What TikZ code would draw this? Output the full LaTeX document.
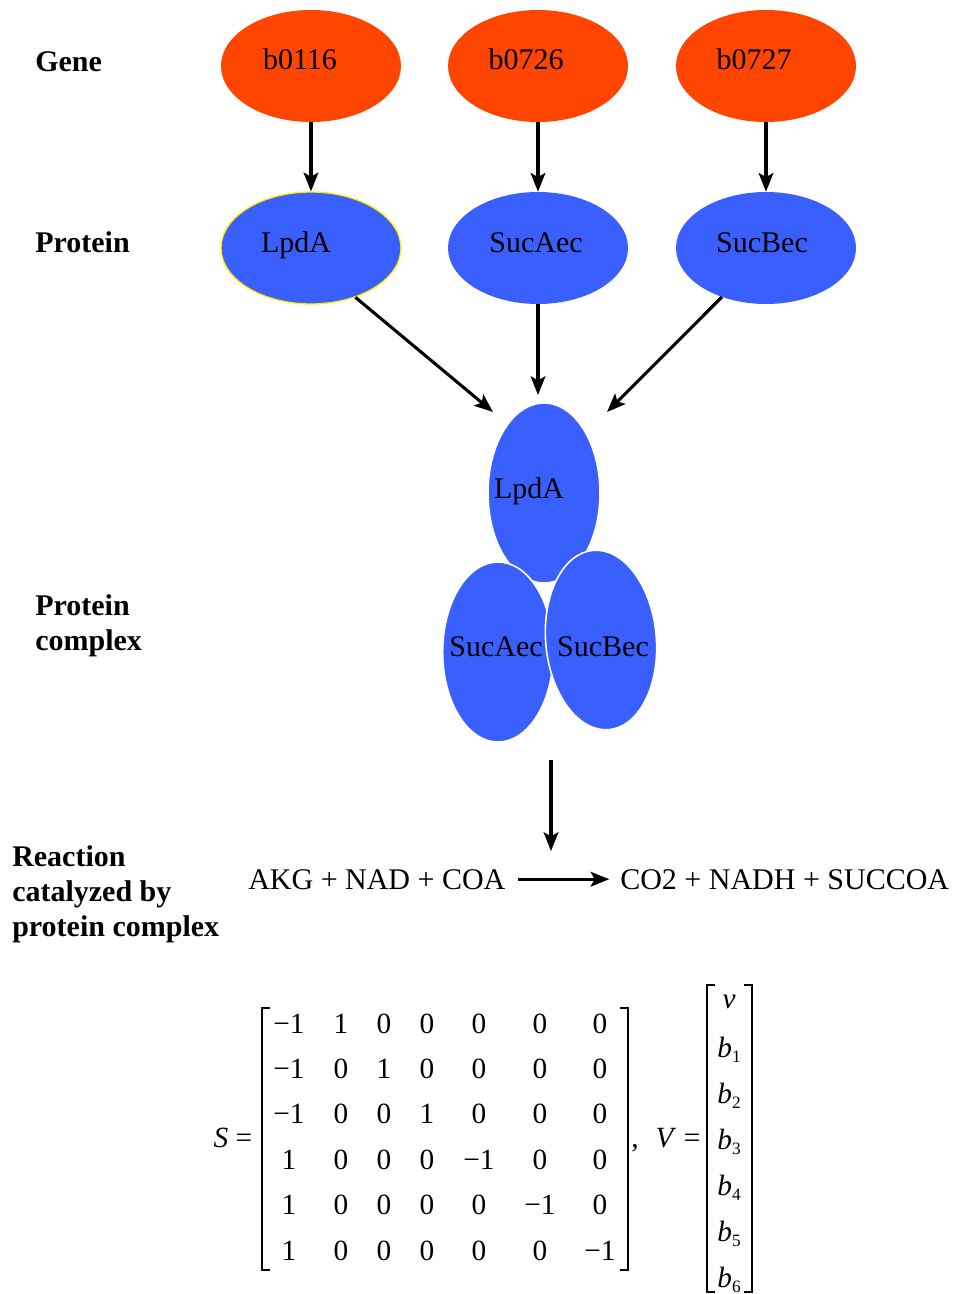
\documentclass[tikz,border=0pt]{standalone}
\usepackage{fontspec}
\setmainfont{Liberation Serif}
\usetikzlibrary{shapes.geometric,arrows.meta,calc}
\definecolor{genecol}{RGB}{255,69,0}
\definecolor{protblue}{RGB}{58,95,255}
\begin{document}
\begin{tikzpicture}[x=0.75pt,y=-0.75pt,
 every node/.style={font=\fontsize{22.5}{26.25}\selectfont},
 gene/.style={ellipse, fill=genecol, minimum width=135pt, minimum height=84pt, inner sep=0},
 prot/.style={ellipse, fill=protblue, minimum width=135pt, minimum height=84pt, inner sep=0},
 cplx/.style={ellipse, fill=protblue, draw=white, line width=1.2pt, minimum width=83pt, minimum height=135pt, inner sep=0},
 txt/.style={anchor=base, inner sep=0},
 lab/.style={inner sep=0, align=left, font=\bfseries\fontsize{22.5}{26.25}\selectfont},
 arr/.style={line width=2.3pt, -{Stealth[length=14pt,width=11pt,inset=3pt]}},
 bra/.style={line width=1.1pt},
 mat/.style={anchor=base, inner sep=0, font=\fontsize{22}{24}\selectfont}]
\path[use as bounding box] (0,0) rectangle (956,1294);

% row labels
\node[lab, anchor=base west] (lgene) at (35,72) {Gene};
\node[lab, anchor=base west] (lprot) at (35,253) {Protein};
\node[lab, anchor=west] (lcplx) at (35,626) {Protein\\complex};
\node[lab, anchor=west] (lreac) at (12,894) {Reaction\\catalyzed by\\protein complex};

% genes
\node[gene] (g1) at (311,66) {};
\node[gene] (g2) at (538,66) {};
\node[gene] (g3) at (766,66) {};
\node[txt] (g1t) at (300,70) {b0116};
\node[txt] (g2t) at (526,70) {b0726};
\node[txt] (g3t) at (754,70) {b0727};

% proteins
\node[prot, draw=yellow, line width=1pt] (p1) at (311,248) {};
\node[prot] (p2) at (538,248) {};
\node[prot] (p3) at (766,248) {};
\node[txt] (p1t) at (296,253) {LpdA};
\node[txt] (p2t) at (536,253) {SucAec};
\node[txt] (p3t) at (762,253) {SucBec};

\draw[arr] (g1) -- (p1);
\draw[arr] (g2) -- (p2);
\draw[arr] (g3) -- (p3);

% complex
\node[cplx, minimum width=84pt] (c1) at (544,493) {};
\node[txt] (c1t) at (529,498) {LpdA};
\node[cplx] (c2) at (498,652) {};
\node[cplx, rotate=5] (c3) at (601,640) {};
\node[txt] (c2t) at (496,656) {SucAec};
\node[txt] (c3t) at (603,656) {SucBec};

\coordinate (a1) at (493,412);
\coordinate (a2) at (538,395);
\coordinate (a3) at (607,412);
\draw[arr] (p1.-48) -- (a1);
\draw[arr] (p2) -- (a2);
\draw[arr] (p3.-132) -- (a3);

\coordinate (k1) at (551,760);
\coordinate (k2) at (551,851);
\draw[arr] (k1) -- (k2);

% reaction
\node[txt, anchor=base west] (lhs) at (248,889) {AKG + NAD + COA};
\node[txt, anchor=base west] (rhs) at (620,889) {CO2 + NADH + SUCCOA};
\draw[arr, shorten <=9pt, shorten >=8pt] (lhs.east) -- (rhs.west);

% S matrix
\node[mat] (Slab) at (233,1147) {\textit{S} =};
\draw[bra] (270,1008) -- (262,1008) -- (262,1270) -- (270,1270);
\draw[bra] (620,1008) -- (628,1008) -- (628,1270) -- (620,1270);
\foreach \row [count=\r] in {{−1,1,0,0,0,0,0},{−1,0,1,0,0,0,0},{−1,0,0,1,0,0,0},{1,0,0,0,−1,0,0},{1,0,0,0,0,−1,0},{1,0,0,0,0,0,−1}}{
  \foreach \e [count=\c] in \row {
    \pgfmathsetmacro{\cx}{{289,341,384,427,479,540,600}[\c-1]}
    \node[mat] (s-\r-\c) at ({\cx},{1033+45.4*(\r-1)}) {\e};
  }
}
\node[mat] (comma) at (635,1147) {,};
\node[mat] (Vlab) at (678,1147) {\textit{V} =};
\draw[bra] (715,985) -- (707,985) -- (707,1292) -- (715,1292);
\draw[bra] (744,985) -- (752,985) -- (752,1292) -- (744,1292);
\node[mat] (v-0) at (729,1008) {\textit{v}};
\foreach \k in {1,...,6}{
  \node[mat] (v-\k) at (729,{1057+46*(\k-1)}) {\textit{b}\raisebox{-4pt}{\fontsize{13}{13}\selectfont\k}};
}
\end{tikzpicture}
\end{document}
